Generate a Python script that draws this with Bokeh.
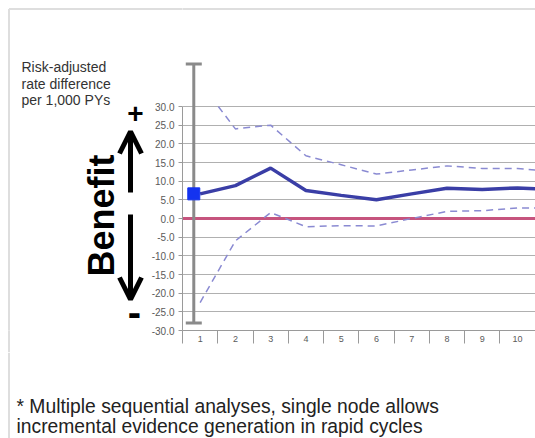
import numpy as np
from bokeh.plotting import figure
from bokeh.layouts import column, row
from bokeh.models import (Range1d, FixedTicker, PrintfTickFormatter, Label,
                          Arrow, OpenHead, Span)
from bokeh.embed import file_html
from bokeh.resources import INLINE

# ---------------- data ----------------
analysis = [1, 2, 3, 4, 5, 6, 7, 8, 9, 10, 11]
estimate = [6.6, 8.8, 13.5, 7.5, 6.2, 5.0, 6.6, 8.1, 7.8, 8.2, 7.8]
upper = [36.4, 24.0, 25.0, 16.8, 14.4, 11.9, 13.0, 14.1, 13.4, 13.4, 12.6]
lower = [-22.5, -6.0, 1.6, -2.2, -1.9, -2.0, 0.0, 1.9, 2.1, 2.8, 2.8]
first_x = [0.82]
first_estimate = [6.6]
bar_x = [0.82]
bar_low = [-28.0]
bar_high = [41.4]
y_ticks = list(range(-30, 31, 5))
x_ticks = list(range(1, 11))
x_labels = [str(i) for i in x_ticks]
y_cap = 30.0
title_lines = ["Risk-adjusted", "rate difference", "per 1,000 PYs"]
note_lines = ["* Multiple sequential analyses, single node allows",
              "incremental evidence generation in rapid cycles"]

# ---------------- layout ----------------
PAGE_W, PAGE_H = 535, 438
ROW_H = 352         # chart row height (page px)
LEFT_W = 148        # decoration column width
MAIN_W = PAGE_W - LEFT_W
ML, MR, MT, MB = 34, 0, 0, 22
FW, FH = MAIN_W - ML - MR, ROW_H - MT - MB
PX_PER_X = 35.26
PX_PER_Y = 3.733
X0 = 0.5
X1 = X0 + FW / PX_PER_X
Y0 = -30.0
Y1 = Y0 + FH / PX_PER_Y
FONT = "Liberation Sans"
BORDER = "#dedede"
BORDER_Y = 8.5
BORDER_X = 8.5
H_RULE_CSS = {"background": f"linear-gradient({BORDER}, {BORDER}) no-repeat 0px 7.5px / 100% 2px"}
V_RULE_CSS = {"background": f"linear-gradient({BORDER}, {BORDER}) no-repeat 7.5px 7.5px / 2px 100%"}


def canvas(w, h, x0, y0, mb=0):
    """A figure whose data coordinates are page pixels (y downwards)."""
    f = figure(width=w, height=h, output_backend="svg", toolbar_location=None,
               x_range=Range1d(x0, x0 + w), y_range=Range1d(y0 + h - mb, y0),
               x_axis_location=None, y_axis_location=None,
               min_border=0, min_border_bottom=mb, outline_line_color=None,
               background_fill_color="white", border_fill_color=None)
    f.grid.visible = False
    return f


def clip_top(xs, ys, top):
    xs = list(map(float, xs)); ys = list(map(float, ys))
    ox, oy = [], []
    for i in range(len(xs)):
        if ys[i] <= top:
            if i > 0 and ys[i - 1] > top:
                t = (top - ys[i - 1]) / (ys[i] - ys[i - 1])
                ox.append(xs[i - 1] + t * (xs[i] - xs[i - 1])); oy.append(top)
            ox.append(xs[i]); oy.append(ys[i])
    return ox, oy


# ---------------- left decorations ----------------
left = canvas(LEFT_W, ROW_H, 0, 0, mb=MB)
left.styles = V_RULE_CSS
left.line([BORDER_X, LEFT_W], [BORDER_Y, BORDER_Y], line_color=BORDER, line_width=2)
left.line([BORDER_X, BORDER_X], [BORDER_Y, ROW_H], line_color=BORDER, line_width=2)
for txt, py in zip(title_lines, [66, 83, 99.5]):
    left.add_layout(Label(x=21, y=py, text=txt, text_font=FONT,
                          text_font_size="14px", text_color="#333333",
                          text_align="left", text_baseline="middle"))
left.add_layout(Label(x=101, y=215, text="Benefit", angle=np.pi / 2,
                      text_font=FONT, text_font_size="36px", text_font_style="bold",
                      text_color="black", text_align="center", text_baseline="middle"))
left.add_layout(Label(x=135, y=113, text="+", text_font=FONT,
                      text_font_size="28px", text_font_style="bold",
                      text_color="black", text_align="center", text_baseline="middle"))
left.add_layout(Label(x=134, y=311, text="-", text_font=FONT,
                      text_font_size="40px", text_font_style="bold",
                      text_color="black", text_align="center", text_baseline="middle"))
left.add_layout(Arrow(x_start=130, y_start=192, x_end=130, y_end=131,
                      line_width=5, line_color="black",
                      end=OpenHead(size=22, line_width=5, line_color="black")))
left.add_layout(Arrow(x_start=130, y_start=214, x_end=130, y_end=299,
                      line_width=5, line_color="black",
                      end=OpenHead(size=22, line_width=5, line_color="black")))

# ---------------- main chart ----------------
p = figure(width=MAIN_W, height=ROW_H, output_backend="svg", toolbar_location=None,
           x_range=Range1d(X0, X1), y_range=Range1d(Y0, Y1),
           min_border_left=ML, min_border_right=MR, min_border_top=MT,
           min_border_bottom=MB, background_fill_color="white",
           border_fill_color=None, outline_line_color=None)
p.styles = H_RULE_CSS

p.yaxis.ticker = FixedTicker(ticks=y_ticks)
p.yaxis.formatter = PrintfTickFormatter(format="%.1f")
p.yaxis.bounds = (min(y_ticks), max(y_ticks))
p.yaxis.axis_line_color = "#9a9a9a"
p.yaxis.major_tick_line_color = "#9a9a9a"
p.yaxis.major_tick_out = 4
p.yaxis.major_tick_in = 0
p.yaxis.minor_tick_line_color = None
p.yaxis.major_label_text_font = FONT
p.yaxis.major_label_text_font_size = "10px"
p.yaxis.major_label_text_color = "#5a5a5a"
p.yaxis.major_label_standoff = 4

p.xaxis.ticker = FixedTicker(ticks=x_ticks,
                             minor_ticks=[t - 0.5 for t in x_ticks] + [x_ticks[-1] + 0.5])
p.xaxis.major_label_overrides = {t: l for t, l in zip(x_ticks, x_labels)}
p.xaxis.axis_line_color = "#9a9a9a"
p.xaxis.major_tick_line_color = None
p.xaxis.major_tick_out = 0
p.xaxis.major_tick_in = 0
p.xaxis.minor_tick_line_color = "#9a9a9a"
p.xaxis.minor_tick_out = 13
p.xaxis.minor_tick_in = 0
p.xaxis.major_label_text_font = FONT
p.xaxis.major_label_text_font_size = "9px"
p.xaxis.major_label_text_color = "#5a5a5a"
p.xaxis.major_label_standoff = -8

p.xgrid.visible = False
p.ygrid.grid_line_color = "#b0b0b0"
p.ygrid.grid_line_width = 1

# page border continuing across the chart top
p.add_layout(Span(location=Y1 - BORDER_Y / PX_PER_Y, dimension="width",
                  line_color=BORDER, line_width=2, level="underlay"))

p.add_layout(Span(location=0, dimension="width", line_color="#c6547e",
                  line_width=3, level="underlay"))

p.segment(x0=bar_x, y0=bar_low, x1=bar_x, y1=bar_high, line_color="#8a8a8a", line_width=3)
p.scatter(x=bar_x + bar_x, y=bar_low + bar_high, marker="dash", size=16,
          line_color="#8a8a8a", line_width=3)

ux, uy = clip_top(analysis, upper, y_cap)
p.line(ux, uy, line_color="#8a8ad2", line_width=1.5, line_dash="7 5")
lx, ly = clip_top(analysis, lower, y_cap)
p.line(lx, ly, line_color="#8a8ad2", line_width=1.5, line_dash="7 5")

p.line(analysis, estimate, line_color="#3a3ea6", line_width=3.5)
p.scatter(x=first_x, y=first_estimate, marker="square", size=12,
          fill_color="#1433f0", line_color="#1433f0")

# ---------------- bottom note ----------------
bottom = canvas(PAGE_W, PAGE_H - ROW_H, 0, ROW_H)
bottom.line([BORDER_X, BORDER_X], [ROW_H, PAGE_H], line_color=BORDER, line_width=2)
for txt, py in zip(note_lines, [406, 426]):
    bottom.add_layout(Label(x=16, y=py, text=txt, text_font=FONT,
                            text_font_size="19.3px", text_color="#222222",
                            text_align="left", text_baseline="middle"))

layout = column(row(left, p), bottom)
open("out.html", "w").write(file_html(layout, INLINE))
